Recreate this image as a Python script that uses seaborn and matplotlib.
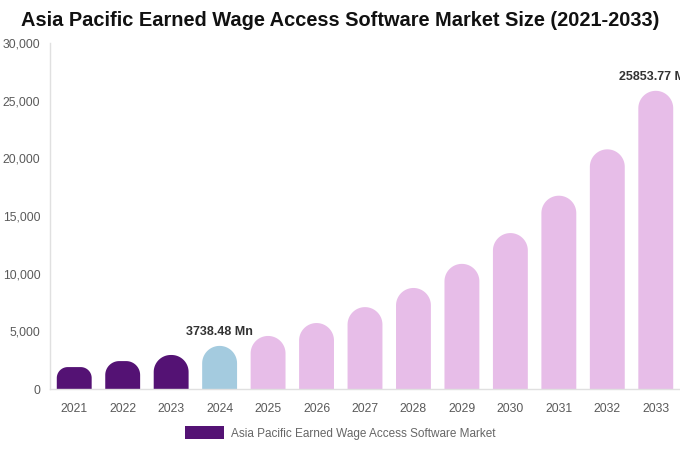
import matplotlib
matplotlib.use("Agg")
import matplotlib.pyplot as plt
import seaborn as sns
import numpy as np
import pandas as pd
from matplotlib.patches import Patch, Polygon
from matplotlib.ticker import FuncFormatter

years = ["2021", "2022", "2023", "2024", "2025", "2026", "2027", "2028", "2029", "2030", "2031", "2032", "2033"]
values = [1900, 2420, 2950, 3738.48, 4600, 5720, 7100, 8760, 10850, 13520, 16760, 20780, 25853.77]
bar_colors = ["#541274", "#541274", "#541274", "#a4cbdf", "#e7bde8", "#e7bde8", "#e7bde8",
              "#e7bde8", "#e7bde8", "#e7bde8", "#e7bde8", "#e7bde8", "#e7bde8"]
annotations = {"2024": "3738.48 Mn", "2033": "25853.77 Mn"}
legend_label = "Asia Pacific Earned Wage Access Software Market"
title = "Asia Pacific Earned Wage Access Software Market Size (2021-2033)"

sns.set_theme(style="white")
plt.rcParams["font.family"] = ["Liberation Sans", "DejaVu Sans"]

df = pd.DataFrame({"year": years, "value": values})

fig = plt.figure(figsize=(6.8, 4.5), dpi=100)
ax = fig.add_axes([50 / 680, 1 - 389 / 450, 630 / 680, 346 / 450])

sns.barplot(data=df, x="year", y="value", hue="year", palette=bar_colors,
            legend=False, width=0.72, ax=ax, saturation=1)

ax.set_ylim(0, 30000)
ax.set_xlim(-0.5, len(years) - 0.5)
ax.set_yticks(np.arange(0, 30001, 5000))
ax.yaxis.set_major_formatter(FuncFormatter(lambda v, p: f"{int(v):,}"))
ax.set_xlabel("")
ax.set_ylabel("")
ax.tick_params(axis="both", length=0, labelsize=8.8, colors="#5a5a5a")
ax.tick_params(axis="y", pad=7)
ax.tick_params(axis="x", pad=10)
for s in ["top", "right"]:
    ax.spines[s].set_visible(False)
for s in ["left", "bottom"]:
    ax.spines[s].set_color("#e0e0e0")
    ax.spines[s].set_linewidth(1)

# round the bar tops
fig.canvas.draw()
to_px = ax.transData
to_data = ax.transData.inverted()
patches = list(ax.patches)
for p in patches:
    x0, w, h = p.get_x(), p.get_width(), p.get_height()
    fc = p.get_facecolor()
    (px0, py0) = to_px.transform((x0, 0))
    (px1, py1) = to_px.transform((x0 + w, h))
    wpx = px1 - px0
    hpx = py1 - py0
    r = min(wpx / 2, hpx / 2)
    pts = [(px0, py0)]
    th = np.linspace(np.pi, np.pi / 2, 20)
    cx, cy = px0 + r, py1 - r
    pts += [(cx + r * np.cos(t), cy + r * np.sin(t)) for t in th]
    th2 = np.linspace(np.pi / 2, 0, 20)
    cx2 = px1 - r
    pts += [(cx2 + r * np.cos(t), cy + r * np.sin(t)) for t in th2]
    pts += [(px1, py0)]
    dpts = to_data.transform(np.array(pts))
    p.set_visible(False)
    ax.add_patch(Polygon(dpts, closed=True, facecolor=fc, edgecolor="none", zorder=2))

for i, y in enumerate(years):
    if y in annotations:
        ax.text(i, values[i] + 700, annotations[y], ha="center", va="bottom",
                fontsize=9, fontweight="bold", color="#333333", clip_on=False)

fig.suptitle(title, x=0.5, y=1 - 21 / 450, va="center", fontsize=14.4, fontweight="bold", color="#111111")

leg = fig.legend(handles=[Patch(facecolor="#541274", edgecolor="none", label=legend_label)],
                 loc="center", bbox_to_anchor=(0.5, 1 - 433 / 450), frameon=False,
                 fontsize=8.5, handlelength=3.3, handleheight=1.3, handletextpad=0.6,
                 labelcolor="#666666")

fig.savefig("out.png", dpi=100)
